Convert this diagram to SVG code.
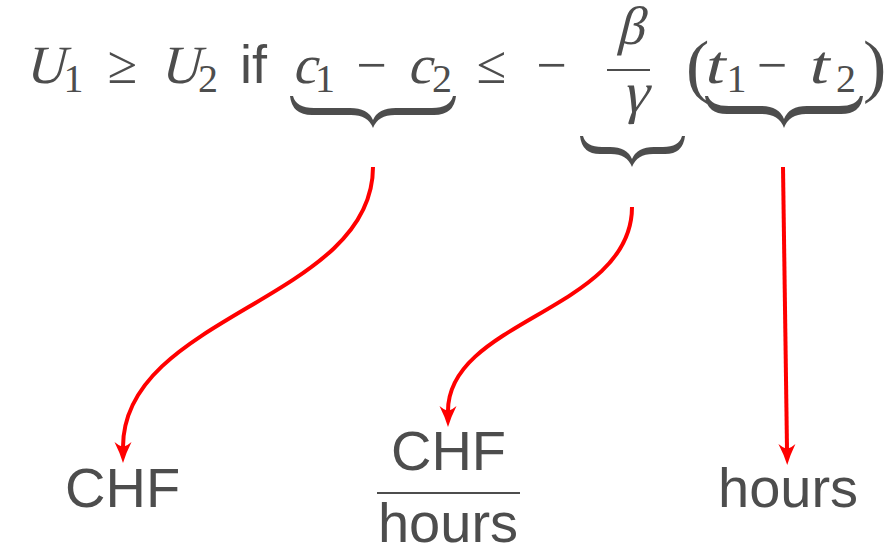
<svg xmlns="http://www.w3.org/2000/svg" width="888" height="547" viewBox="0 0 888 547">
<style>
.m{font-family:"Liberation Serif","Times New Roman",serif;font-size:54px;fill:#4d4d4d}
.sub{font-family:"Liberation Serif","Times New Roman",serif;font-size:40px;fill:#4d4d4d;text-anchor:middle}
.sf{font-family:"Liberation Sans",Arial,sans-serif;font-size:56px;fill:#4d4d4d}
.brace{fill:#4d4d4d}
.bar{stroke:#4d4d4d;stroke-width:2}
.arr{fill:none;stroke:#ff0000;stroke-width:4}
</style>
<defs>
<marker id="ah" markerUnits="userSpaceOnUse" orient="auto" viewBox="-6 -10 24 20" refX="0" refY="0" markerWidth="24" markerHeight="20" overflow="visible">
<path d="M16,0 Q6,-3 -5,-8.5 Q-1,-4 0,0 Q-1,4 -5,8.5 Q6,3 16,0 Z" fill="#ff0000"/>
</marker>
</defs>
<g id="equation">
<text class="m" transform="translate(25,83) skewX(-14)">U</text>
<text class="sub" x="73.5" y="92">1</text>
<text class="m" x="122.5" y="83" text-anchor="middle">≥</text>
<text class="m" transform="translate(160,83) skewX(-14)">U</text>
<text class="sub" x="208" y="92">2</text>
<text class="sf" x="240" y="83" style="font-size:54px">if</text>
<text class="m" transform="translate(292,83) skewX(-14)">c</text>
<text class="sub" x="325" y="92">1</text>
<text class="m" x="371.5" y="83" text-anchor="middle">−</text>
<text class="m" transform="translate(407,83) skewX(-14)">c</text>
<text class="sub" x="442" y="92">2</text>
<text class="m" x="491.5" y="83" text-anchor="middle">≤</text>
<text class="m" x="551.5" y="83" text-anchor="middle">−</text>
<text class="m" transform="translate(630,44) skewX(-14)" text-anchor="middle">β</text>
<line class="bar" x1="607" y1="70" x2="650" y2="70"/>
<text class="m" transform="translate(634,112) skewX(-14)" text-anchor="middle" style="font-size:58px">γ</text>
<text class="m" x="686" y="89" style="font-size:70px">(</text>
<text class="m" transform="translate(703,83) skewX(-14) scale(1.3,1)">t</text>
<text class="sub" x="736.5" y="92">1</text>
<text class="m" x="772" y="83" text-anchor="middle">−</text>
<text class="m" transform="translate(807,83) skewX(-14) scale(1.3,1)">t</text>
<text class="sub" x="846" y="92">2</text>
<text class="m" x="863" y="89" style="font-size:70px">)</text>
</g>
<g id="brace-cost">
<path class="brace" d="M290,96 Q292,115 312,115 L351,115 Q368,115 373,128 Q378,115 395,115 L434,115 Q454,115 456,96 L453,96 Q450,108 432,108 L396,108 Q378,108 373,120 Q368,108 350,108 L314,108 Q296,108 293,96 Z"/>
</g>
<g id="brace-ratio">
<path class="brace" d="M580,136 Q582,154 600,154 L611,154 Q627,154 632,167 Q637,154 653,154 L665,154 Q683,154 685,136 L682,136 Q679,147 663,147 L654,147 Q637,147 632,159 Q627,147 610,147 L602,147 Q586,147 583,136 Z"/>
</g>
<g id="brace-time">
<path class="brace" d="M705,96 Q707,114 727,114 L762,114 Q779,114 784,128 Q789,114 806,114 L841,114 Q861,114 863,96 L860,96 Q857,106 839,106 L807,106 Q789,106 784,119 Q779,106 761,106 L729,106 Q711,106 708,96 Z"/>
</g>
<g id="label-chf">
<text class="sf" x="65" y="507">CHF</text>
</g>
<g id="label-chf-per-hour">
<text class="sf" x="448.5" y="470" text-anchor="middle">CHF</text>
<line class="bar" x1="377" y1="493" x2="520" y2="493"/>
<text class="sf" x="448" y="542" text-anchor="middle">hours</text>
</g>
<g id="label-hours">
<text class="sf" x="718" y="507">hours</text>
</g>
<g id="connectors">
<path class="arr" d="M373,167 C373,300 123,315 123,447" marker-end="url(#ah)"/>
<path class="arr" d="M632,207 C632,310 448,320 448,411" marker-end="url(#ah)"/>
<path class="arr" d="M783,167 L787,449" marker-end="url(#ah)"/>
</g>
</svg>
